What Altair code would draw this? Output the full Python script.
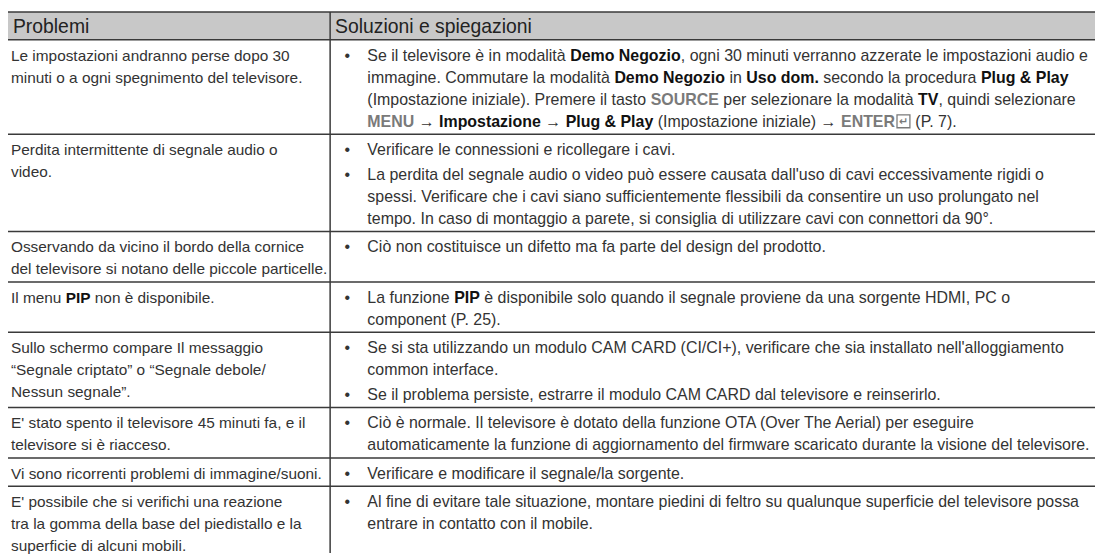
import re
import unicodedata
import altair as alt
import pandas as pd

# ---------------- data ----------------
header_labels = ["Problemi", "Soluzioni e spiegazioni"]

problems = [
    ["Le impostazioni andranno perse dopo 30", "minuti o a ogni spegnimento del televisore."],
    ["Perdita intermittente di segnale audio o", "video."],
    ["Osservando da vicino il bordo della cornice", "del televisore si notano delle piccole particelle."],
    ["Il menu *PIP* non è disponibile."],
    ["Sullo schermo compare Il messaggio", "“Segnale criptato” o “Segnale debole/", "Nessun segnale”."],
    ["E' stato spento il televisore 45 minuti fa, e il", "televisore si è riacceso."],
    ["Vi sono ricorrenti problemi di immagine/suoni."],
    ["E' possibile che si verifichi una reazione", "tra la gomma della base del piedistallo e la",
     "superficie di alcuni mobili."],
]

solutions = [
    [["Se il televisore è in modalità *Demo Negozio*, ogni 30 minuti verranno azzerate le impostazioni audio e",
      "immagine. Commutare la modalità *Demo Negozio* in *Uso dom.* secondo la procedura *Plug & Play*",
      "(Impostazione iniziale). Premere il tasto {SOURCE} per selezionare la modalità *TV*, quindi selezionare",
      "{MENU} → *Impostazione* → *Plug & Play* (Impostazione iniziale) → {ENTER}~ (P. 7)."]],
    [["Verificare le connessioni e ricollegare i cavi."],
     ["La perdita del segnale audio o video può essere causata dall'uso di cavi eccessivamente rigidi o",
      "spessi. Verificare che i cavi siano sufficientemente flessibili da consentire un uso prolungato nel",
      "tempo. In caso di montaggio a parete, si consiglia di utilizzare cavi con connettori da 90°."]],
    [["Ciò non costituisce un difetto ma fa parte del design del prodotto."]],
    [["La funzione *PIP* è disponibile solo quando il segnale proviene da una sorgente HDMI, PC o",
      "component (P. 25)."]],
    [["Se si sta utilizzando un modulo CAM CARD (CI/CI+), verificare che sia installato nell'alloggiamento",
      "common interface."],
     ["Se il problema persiste, estrarre il modulo CAM CARD dal televisore e reinserirlo."]],
    [["Ciò è normale. Il televisore è dotato della funzione OTA (Over The Aerial) per eseguire",
      "automaticamente la funzione di aggiornamento del firmware scaricato durante la visione del televisore."]],
    [["Verificare e modificare il segnale/la sorgente."]],
    [["Al fine di evitare tale situazione, montare piedini di feltro su qualunque superficie del televisore possa",
      "entrare in contatto con il mobile."]],
]

# ---------------- layout / style ----------------
FONT = "Liberation Sans"
FS_LEFT = 15.5
FS_RIGHT = 16.05
HEAD_FS = 19.5
LINE = 22.2
FIRST = 21
BOTTOM_PAD = 7.5
BULLET_GAP = 3
HEAD_TOP, HEAD_BOT = 10, 38
X_EDGE_L, X_EDGE_R = 7, 1103
X_DIV = 332.5
X_PROB = 11
X_BULLET = 347
X_SOL = 370
PAGE_W, PAGE_H = 1103, 555

# Helvetica-compatible advance widths (1/1000 em)
_chars = "ABCDEFGHIJKLMNOPQRSTUVWXYZabcdefghijklmnopqrstuvwxyz"
_reg_w = [667, 667, 722, 722, 667, 611, 778, 722, 278, 500, 667, 556, 833, 722, 778, 667, 778, 722, 667, 611,
          722, 667, 944, 667, 667, 611,
          556, 556, 500, 556, 556, 278, 556, 556, 222, 222, 500, 222, 833, 556, 556, 556, 556, 333, 500, 278,
          556, 500, 722, 500, 500, 500]
_bold_w = [722, 722, 722, 722, 667, 611, 778, 722, 278, 556, 722, 611, 833, 722, 778, 667, 778, 722, 667, 611,
           722, 667, 944, 667, 667, 611,
           556, 611, 556, 611, 556, 333, 611, 611, 278, 278, 556, 278, 889, 611, 611, 611, 611, 389, 556, 333,
           611, 556, 778, 556, 556, 500]
REG = dict(zip(_chars, _reg_w))
BOLD = dict(zip(_chars, _bold_w))
for d in (REG, BOLD):
    for c in "0123456789":
        d[c] = 556
common = {" ": 278, ",": 278, ".": 278, "/": 278, "(": 333, ")": 333, "-": 333, "+": 584,
          "&": 667, "'": 191, "’": 222, "“": 333, "”": 333, "°": 400, "→": 1000, "•": 350, ":": 278}
for k, v in common.items():
    REG.setdefault(k, v)
    BOLD.setdefault(k, v)
BOLD["&"] = 722
BOLD["'"] = 238


def char_w(ch, bold):
    table = BOLD if bold else REG
    if ch in table:
        return table[ch]
    base = unicodedata.normalize("NFD", ch)[0]
    return table.get(base, 556)


def text_w(s, bold, fs):
    return sum(char_w(c, bold) for c in s) * fs / 1000.0


TOKEN = re.compile(r"\*([^*]+)\*|\{([^}]+)\}|(~)")


def parse(line):
    out, pos = [], 0
    for m in TOKEN.finditer(line):
        if m.start() > pos:
            out.append(("reg", line[pos:m.start()]))
        if m.group(1):
            out.append(("bold", m.group(1)))
        elif m.group(2):
            out.append(("key", m.group(2)))
        else:
            out.append(("icon", ""))
        pos = m.end()
    if pos < len(line):
        out.append(("reg", line[pos:]))
    return out


segs, icons = [], []


def place(line, x0, y, fs):
    x = x0
    sp = lambda b: char_w(" ", b) * fs / 1000.0
    for style, txt in parse(line):
        if style == "icon":
            icons.append(dict(x0=x + 2, x1=x + 15, y0=y - 12, y1=y + 1, ax=x + 8.5, ay=y - 5, t="↵"))
            x += 16
            continue
        bold = style != "reg"
        lead = len(txt) - len(txt.lstrip(" "))
        trail = len(txt) - len(txt.rstrip(" "))
        core = txt.strip(" ")
        x += lead * sp(bold)
        if core:
            segs.append(dict(x=x, y=y, text=core, style=style, fs=fs))
        x += text_w(core, bold, fs)
        x += trail * sp(bold)


bullets = []
hlines = [HEAD_TOP, HEAD_BOT]
y_top = HEAD_BOT
for prob, sol in zip(problems, solutions):
    n = max(len(prob), sum(len(b) for b in sol))
    h = FIRST + (n - 1) * LINE + BOTTOM_PAD + BULLET_GAP * (len(sol) - 1)
    for i, line in enumerate(prob):
        place(line, X_PROB, y_top + FIRST + i * LINE, FS_LEFT)
    yy = y_top + FIRST
    for b in sol:
        bullets.append(dict(x=X_BULLET, y=yy, text="•", fs=FS_RIGHT))
        for line in b:
            place(line, X_SOL, yy, FS_RIGHT)
            yy += LINE
        yy += BULLET_GAP
    y_top += h
    if y_top < PAGE_H:
        hlines.append(y_top)

seg_df = pd.DataFrame(segs)
bul_df = pd.DataFrame(bullets)
icon_df = pd.DataFrame(icons)
hl_df = pd.DataFrame({"y": hlines, "x0": X_EDGE_L, "x1": X_EDGE_R})
vl_df = pd.DataFrame({"x": [X_DIV], "y0": [HEAD_TOP], "y1": [PAGE_H]})
head_df = pd.DataFrame({"x0": [X_EDGE_L], "x1": [X_EDGE_R], "y0": [HEAD_TOP], "y1": [HEAD_BOT]})
head_txt = pd.DataFrame({"x": [X_PROB + 2, X_DIV + 5], "y": [31, 31], "text": header_labels})

xs = alt.Scale(domain=[8, PAGE_W], nice=False, zero=False)
ys = alt.Scale(domain=[8, PAGE_H], nice=False, zero=False, reverse=True)


def X(f):
    return alt.X(f, type="quantitative", scale=xs, axis=None)


def Y(f):
    return alt.Y(f, type="quantitative", scale=ys, axis=None)


SIZE = alt.Size("fs:Q", scale=None, legend=None)

band = alt.Chart(head_df).mark_rect(color="#c8c8c8").encode(x=X("x0"), x2="x1", y=Y("y0"), y2="y1")
hrules = alt.Chart(hl_df).mark_rule(color="#3a3a3a", strokeWidth=1.5).encode(x=X("x0"), x2="x1", y=Y("y"))
vrule = alt.Chart(vl_df).mark_rule(color="#3a3a3a", strokeWidth=1.5).encode(x=X("x"), y=Y("y0"), y2="y1")

base_txt = dict(align="left", baseline="alphabetic", font=FONT)
head_layer = alt.Chart(head_txt).mark_text(fontSize=HEAD_FS, color="#222222", **base_txt).encode(
    x=X("x"), y=Y("y"), text="text:N")
reg_layer = alt.Chart(seg_df).transform_filter(alt.datum.style == "reg").mark_text(
    color="#333333", **base_txt).encode(x=X("x"), y=Y("y"), text="text:N", size=SIZE)
bold_layer = alt.Chart(seg_df).transform_filter(alt.datum.style == "bold").mark_text(
    color="#111111", fontWeight="bold", **base_txt).encode(x=X("x"), y=Y("y"), text="text:N", size=SIZE)
key_layer = alt.Chart(seg_df).transform_filter(alt.datum.style == "key").mark_text(
    color="#7a7a7a", fontWeight="bold", **base_txt).encode(x=X("x"), y=Y("y"), text="text:N", size=SIZE)
bul_layer = alt.Chart(bul_df).mark_text(color="#333333", **base_txt).encode(
    x=X("x"), y=Y("y"), text="text:N", size=SIZE)
icon_box = alt.Chart(icon_df).mark_rect(fill="white", stroke="#7a7a7a", strokeWidth=1.3).encode(
    x=X("x0"), x2="x1", y=Y("y0"), y2="y1")
icon_arrow = alt.Chart(icon_df).mark_text(align="center", baseline="middle", font="DejaVu Sans",
                                          fontSize=11, fontWeight="bold", color="#7a7a7a").encode(
    x=X("ax"), y=Y("ay"), text="t:N")

chart = alt.layer(band, hrules, vrule, head_layer, reg_layer, bold_layer, key_layer, bul_layer,
                  icon_box, icon_arrow).properties(
    width=PAGE_W - 8, height=PAGE_H - 8, padding=0, autosize=alt.AutoSizeParams(type="none"),
    background="white").configure_view(stroke=None)

chart.save("out.html", embed_options={"renderer": "svg", "actions": False})
